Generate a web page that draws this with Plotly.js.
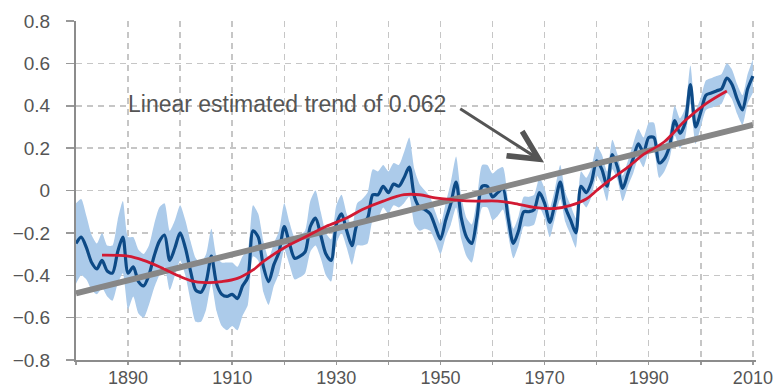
<!DOCTYPE html>
<html>
<head>
<meta charset="utf-8">
<script src="https://cdn.plot.ly/plotly-3.0.1.min.js"></script>
<style>
  html, body { margin: 0; padding: 0; background: #ffffff; }
  #chart { width: 776px; height: 391px; }
</style>
</head>
<body>
<div id="chart"></div>
<script>
// ---- Data ----
const startYear = 1880;
// Annual global temperature anomaly (dark blue line), 1880-2010
const anomaly = [
  -0.25, -0.22, -0.27, -0.34, -0.37, -0.33, -0.38, -0.39, -0.29, -0.22,
  -0.39, -0.36, -0.43, -0.45, -0.40, -0.31, -0.24, -0.21, -0.33, -0.27,
  -0.20, -0.27, -0.38, -0.47, -0.48, -0.43, -0.31, -0.44, -0.49, -0.50,
  -0.49, -0.51, -0.45, -0.41, -0.19, -0.22, -0.36, -0.43, -0.35, -0.29,
  -0.17, -0.25, -0.32, -0.31, -0.29, -0.17, -0.13, -0.21, -0.30, -0.33,
  -0.16, -0.11, -0.19, -0.26, -0.16, -0.15, -0.13, -0.02, -0.02, 0.02,
  -0.01, 0.03, 0.02, 0.06, 0.11, -0.03, -0.08, -0.09, -0.11, -0.17,
  -0.23, -0.14, -0.06, 0.04, -0.13, -0.22, -0.25, -0.13, 0.02, 0.02,
  -0.03, -0.01, 0.01, -0.13, -0.25, -0.19, -0.10, -0.10, -0.09, -0.01,
  -0.06, -0.15, -0.06, 0.04, -0.08, -0.14, -0.20, 0.02, -0.01, 0.04,
  0.14, 0.10, 0.02, 0.17, 0.11, 0.01, 0.08, 0.15, 0.22, 0.18,
  0.25, 0.25, 0.13, 0.15, 0.21, 0.33, 0.27, 0.32, 0.50, 0.30,
  0.37, 0.45, 0.46, 0.47, 0.48, 0.53, 0.50, 0.43, 0.38, 0.48,
  0.54
];
// Half-width of the light-blue uncertainty band, per year
const bandHalfWidth = [
  0.19, 0.18, 0.15, 0.13, 0.12, 0.13, 0.12, 0.13, 0.15, 0.17,
  0.17, 0.14, 0.15, 0.15, 0.14, 0.15, 0.16, 0.15, 0.14, 0.13,
  0.13, 0.13, 0.14, 0.15, 0.14, 0.13, 0.13, 0.13, 0.15, 0.16,
  0.15, 0.15, 0.14, 0.13, 0.12, 0.11, 0.12, 0.11, 0.10, 0.10,
  0.11, 0.10, 0.10, 0.10, 0.10, 0.12, 0.13, 0.11, 0.10, 0.10,
  0.09, 0.09, 0.08, 0.09, 0.10, 0.11, 0.12, 0.12, 0.11, 0.10,
  0.10, 0.10, 0.10, 0.12, 0.14, 0.13, 0.11, 0.09, 0.08, 0.07,
  0.07, 0.08, 0.10, 0.12, 0.10, 0.09, 0.09, 0.09, 0.10, 0.10,
  0.11, 0.11, 0.10, 0.08, 0.07, 0.07, 0.07, 0.07, 0.07, 0.07,
  0.07, 0.07, 0.07, 0.08, 0.07, 0.07, 0.07, 0.07, 0.07, 0.07,
  0.07, 0.07, 0.07, 0.07, 0.06, 0.06, 0.06, 0.07, 0.07, 0.07,
  0.07, 0.07, 0.07, 0.06, 0.06, 0.07, 0.07, 0.07, 0.09, 0.08,
  0.07, 0.07, 0.07, 0.07, 0.07, 0.07, 0.07, 0.07, 0.07, 0.07,
  0.08
];
// Smoothed curve (red)
const smoothYears = [1885, 1890, 1893, 1896, 1899, 1902, 1905, 1908, 1911, 1914,
  1916, 1920, 1924, 1928, 1932, 1935, 1939, 1943, 1946, 1949, 1953, 1957, 1961,
  1965, 1968, 1972, 1975, 1978, 1980, 1982, 1986, 1989, 1993, 1997, 2001, 2005];
const smoothValues = [-0.305, -0.31, -0.33, -0.36, -0.395, -0.425, -0.435, -0.43,
  -0.415, -0.375, -0.335, -0.27, -0.22, -0.17, -0.13, -0.09, -0.05, -0.02, -0.02,
  -0.035, -0.045, -0.05, -0.05, -0.065, -0.08, -0.085, -0.07, -0.04, 0.0, 0.04,
  0.11, 0.17, 0.23, 0.33, 0.41, 0.47];
// Linear trend (grey)
const trendYears = [1880, 2010];
const trendValues = [-0.485, 0.31];
// Axis ticks
const xTickVals = [1890, 1910, 1930, 1950, 1970, 1990, 2010];
const xTickText = ['1890', '1910', '1930', '1950', '1970', '1990', '2010'];
const annotationText = 'Linear estimated trend of 0.062';

// ---- Build traces ----
const years = anomaly.map((_, i) => startYear + i);
const bandLower = anomaly.map((v, i) => v - bandHalfWidth[i]);
const bandUpper = anomaly.map((v, i) => v + bandHalfWidth[i]);

const FONT = '"Liberation Sans", Arial, sans-serif';
const TXT = '#555555';

const traces = [
  { x: years, y: bandLower, type: 'scatter', mode: 'lines',
    line: { width: 0, color: 'rgba(0,0,0,0)', shape: 'spline', smoothing: 0.6 },
    hoverinfo: 'skip', showlegend: false },
  { x: years, y: bandUpper, type: 'scatter', mode: 'lines', fill: 'tonexty',
    fillcolor: 'rgb(172,203,234)',
    line: { width: 0, color: 'rgba(0,0,0,0)', shape: 'spline', smoothing: 0.6 },
    hoverinfo: 'skip', showlegend: false },
  { x: years, y: anomaly, type: 'scatter', mode: 'lines',
    line: { color: '#0d4a86', width: 3.2, shape: 'spline', smoothing: 0.8 },
    showlegend: false },
  { x: trendYears, y: trendValues, type: 'scatter', mode: 'lines',
    line: { color: '#878787', width: 6 }, showlegend: false },
  { x: smoothYears, y: smoothValues, type: 'scatter', mode: 'lines',
    line: { color: '#d21a33', width: 2.8, shape: 'spline', smoothing: 1 },
    showlegend: false }
];

const gridDash = '6px,5px';
const layout = {
  width: 776, height: 391,
  margin: { l: 76, r: 20, t: 21, b: 31 },
  paper_bgcolor: '#ffffff', plot_bgcolor: '#ffffff',
  font: { family: FONT, color: TXT, size: 19 },
  showlegend: false,
  xaxis: {
    range: [1880, 2010.6],
    tickvals: xTickVals, ticktext: xTickText,
    ticks: 'outside', ticklen: 3, tickwidth: 1.5, tickcolor: '#999999',
    showgrid: true, gridcolor: '#c6c6c6', gridwidth: 1.5, griddash: gridDash,
    minor: { tick0: 1880, dtick: 10, ticks: 'outside', ticklen: 3, tickwidth: 1.5,
             tickcolor: '#999999', showgrid: true, gridcolor: '#c6c6c6',
             gridwidth: 1.5, griddash: gridDash },
    showline: true, linecolor: '#8c8c8c', linewidth: 2,
    zeroline: false, ticklabelstandoff: -3,
    tickfont: { family: FONT, size: 18, color: TXT }
  },
  yaxis: {
    range: [-0.8, 0.8], dtick: 0.2, tick0: 0,
    ticks: 'outside', ticklen: 8, tickwidth: 1.5, tickcolor: '#999999',
    showgrid: true, gridcolor: '#c6c6c6', gridwidth: 1.5, griddash: gridDash,
    showline: true, linecolor: '#8c8c8c', linewidth: 2,
    zeroline: false, ticklabelstandoff: 12,
    tickfont: { family: FONT, size: 19, color: TXT }
  },
  annotations: [
    { x: 1951.4, y: 0.41, xref: 'x', yref: 'y', text: annotationText,
      showarrow: false, xanchor: 'right', yanchor: 'middle',
      font: { family: FONT, size: 23, color: TXT } },
    { x: 1969.9, y: 0.132, xref: 'x', yref: 'y', ax: 1953.5, ay: 0.39,
      axref: 'x', ayref: 'y', text: '', showarrow: true,
      arrowhead: 5, arrowsize: 1.9, arrowwidth: 3, arrowcolor: '#555555' }
  ]
};

Plotly.newPlot('chart', traces, layout, { staticPlot: true, displayModeBar: false });
</script>
</body>
</html>
